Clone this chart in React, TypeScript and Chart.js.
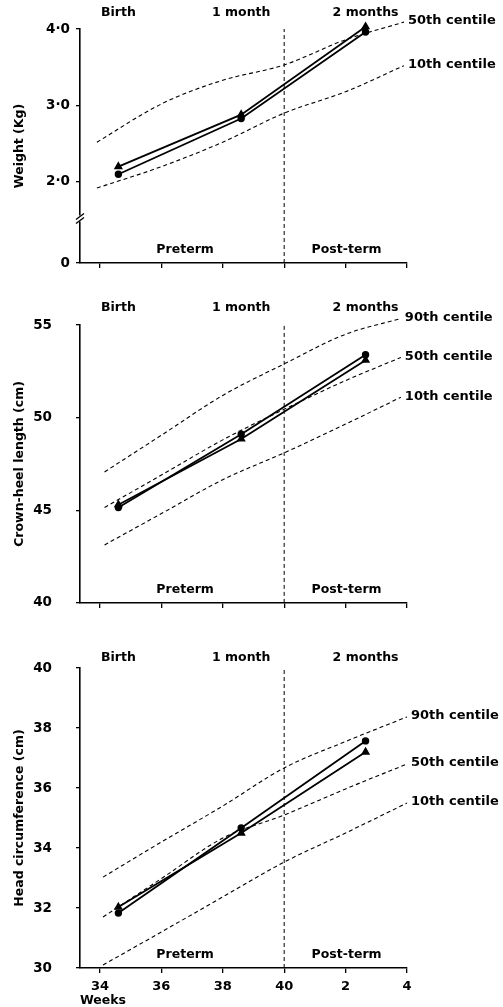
import { useEffect, useRef } from "react";
import { Chart, registerables } from "chart.js";

Chart.register(...registerables);

const FONT = '"DejaVu Sans", sans-serif';

// Shared x-axis (gestational / post-term weeks)
const weekTicks = [34, 36, 38, 40, 42, 44];
const weekTickLabels = ["34", "36", "38", "40", "2", "4"];
const termWeek = 40;
const visitWeeks = [34.6, 38.6, 42.65];
const visitLabels = ["Birth", "1 month", "2 months"];
const regionLabels = ["Preterm", "Post-term"];

// Panel 1: weight (kg)
const weightCentileWeeks = [33.9, 36, 38, 40, 42, 43.9];
const weight50 = [2.52, 3.02, 3.33, 3.53, 3.86, 4.09];
const weight10 = [1.92, 2.2, 2.52, 2.9, 3.18, 3.52];
const weightTriangle = [2.2, 2.88, 4.03];
const weightCircle = [2.1, 2.83, 3.96];
const weightTicks = [0.94, 2, 3, 4];
const weightTickLabels = ["0", "2·0", "3·0", "4·0"];

// Panel 2: crown-heel length (cm)
const lengthCentileWeeks = [34.15, 36, 38, 40, 42, 43.8];
const length90 = [47.07, 49.05, 51.2, 52.9, 54.5, 55.35];
const length50 = [45.15, 46.9, 48.8, 50.45, 52.0, 53.25];
const length10 = [43.13, 44.82, 46.65, 48.1, 49.65, 51.1];
const lengthCircle = [45.15, 49.1, 53.4];
const lengthTriangle = [45.3, 48.85, 53.1];
const lengthTicks = [40, 45, 50, 55];
const lengthTickLabels = ["40", "45", "50", "55"];

// Panel 3: head circumference (cm)
const headCentileWeeks = [34.1, 36, 38, 40, 42, 44];
const head90 = [33.03, 34.2, 35.4, 36.67, 37.55, 38.37];
const head50 = [31.7, 32.98, 34.33, 35.1, 35.97, 36.8];
const head10 = [30.1, 31.2, 32.37, 33.53, 34.5, 35.5];
const headCircle = [31.83, 34.67, 37.57];
const headTriangle = [32.03, 34.5, 37.2];
const headTicks = [30, 32, 34, 36, 38, 40];
const headTickLabels = ["30", "32", "34", "36", "38", "40"];

type Centile = { name: string; weeks: number[]; values: number[] };

type PanelSpec = {
  top: number;
  height: number;
  padTop: number;
  xAxisHeight: number;
  yMin: number;
  yMax: number;
  yTicks: number[];
  yLabels: string[];
  yTickPad: number;
  topLabelOffset: number;
  title: string;
  centiles: Centile[];
  triangle: number[];
  circle: number[];
  showXLabels: boolean;
  axisBreak: boolean;
};

const panels: PanelSpec[] = [
  {
    top: 0,
    height: 290,
    padTop: 29,
    xAxisHeight: 27,
    yMin: weightTicks[0],
    yMax: 4,
    yTicks: weightTicks,
    yLabels: weightTickLabels,
    yTickPad: 6,
    topLabelOffset: 16,
    title: "Weight (Kg)",
    centiles: [
      { name: "50th centile", weeks: weightCentileWeeks, values: weight50 },
      { name: "10th centile", weeks: weightCentileWeeks, values: weight10 },
    ],
    triangle: weightTriangle,
    circle: weightCircle,
    showXLabels: false,
    axisBreak: true,
  },
  {
    top: 290,
    height: 345,
    padTop: 35,
    xAxisHeight: 13,
    yMin: 40,
    yMax: 55,
    yTicks: lengthTicks,
    yLabels: lengthTickLabels,
    yTickPad: 24,
    topLabelOffset: 17,
    title: "Crown-heel length (cm)",
    centiles: [
      { name: "90th centile", weeks: lengthCentileWeeks, values: length90 },
      { name: "50th centile", weeks: lengthCentileWeeks, values: length50 },
      { name: "10th centile", weeks: lengthCentileWeeks, values: length10 },
    ],
    triangle: lengthTriangle,
    circle: lengthCircle,
    showXLabels: false,
    axisBreak: false,
  },
  {
    top: 635,
    height: 372,
    padTop: 33,
    xAxisHeight: 39,
    yMin: 30,
    yMax: 40,
    yTicks: headTicks,
    yLabels: headTickLabels,
    yTickPad: 24,
    topLabelOffset: 10,
    title: "Head circumference (cm)",
    centiles: [
      { name: "90th centile", weeks: headCentileWeeks, values: head90 },
      { name: "50th centile", weeks: headCentileWeeks, values: head50 },
      { name: "10th centile", weeks: headCentileWeeks, values: head10 },
    ],
    triangle: headTriangle,
    circle: headCircle,
    showXLabels: true,
    axisBreak: false,
  },
];

function buildConfig(p: PanelSpec): any {
  const datasets: any[] = [];
  p.centiles.forEach((c) => {
    datasets.push({
      label: c.name,
      data: c.weeks.map((w, i) => ({ x: w, y: c.values[i] })),
      borderColor: "#000",
      borderWidth: 1.1,
      borderDash: [4, 3],
      pointRadius: 0,
      cubicInterpolationMode: "monotone",
      clip: false,
      fill: false,
    });
  });
  datasets.push({
    label: "triangle",
    data: visitWeeks.map((w, i) => ({ x: w, y: p.triangle[i] })),
    borderColor: "#000",
    backgroundColor: "#000",
    borderWidth: 1.8,
    pointStyle: "triangle",
    pointRadius: 3.5,
    pointBackgroundColor: "#000",
    clip: false,
    fill: false,
  });
  datasets.push({
    label: "circle",
    data: visitWeeks.map((w, i) => ({ x: w, y: p.circle[i] })),
    borderColor: "#000",
    backgroundColor: "#000",
    borderWidth: 1.8,
    pointStyle: "circle",
    pointRadius: 2.8,
    pointBackgroundColor: "#000",
    clip: false,
    fill: false,
  });
  datasets.push({
    label: "term",
    data: [
      { x: termWeek, y: p.yMin },
      { x: termWeek, y: p.yMax },
    ],
    borderColor: "#000",
    borderWidth: 1,
    borderDash: [4, 3],
    pointRadius: 0,
    fill: false,
  });

  const textPlugin = {
    id: "panelText",
    afterDraw(chart: any) {
      const ctx = chart.ctx as CanvasRenderingContext2D;
      const xs = chart.scales.x;
      const ys = chart.scales.y;
      const area = chart.chartArea;
      ctx.save();
      ctx.fillStyle = "#000";
      ctx.textBaseline = "middle";

      // visit labels along the top
      ctx.font = `bold 12.5px ${FONT}`;
      ctx.textAlign = "center";
      visitLabels.forEach((t, i) => {
        ctx.fillText(t, xs.getPixelForValue(visitWeeks[i]), area.top - p.topLabelOffset);
      });

      // Preterm / Post-term
      const termX = xs.getPixelForValue(termWeek);
      ctx.fillText(regionLabels[0], (area.left + termX) / 2 + 3, area.bottom - 13);
      ctx.fillText(regionLabels[1], (termX + area.right) / 2 + 1, area.bottom - 13);

      // centile labels at end of each dashed curve
      ctx.font = `bold 13px ${FONT}`;
      ctx.textAlign = "left";
      p.centiles.forEach((c) => {
        const n = c.weeks.length - 1;
        const px = xs.getPixelForValue(c.weeks[n]);
        const py = ys.getPixelForValue(c.values[n]);
        ctx.fillText(c.name, px + 4, py - 1);
      });

      // y-axis title
      ctx.font = `bold 12.5px ${FONT}`;
      ctx.save();
      ctx.translate(20, (area.top + area.bottom) / 2);
      ctx.rotate(-Math.PI / 2);
      ctx.textAlign = "center";
      ctx.fillText(p.title, 0, 0);
      ctx.restore();

      if (p.showXLabels) {
        ctx.textAlign = "center";
        ctx.fillText("Weeks", xs.getPixelForValue(weekTicks[0]) + 3, area.bottom + 33);
      }

      if (p.axisBreak) {
        const by = ys.getPixelForValue((p.yMin + p.yTicks[1]) / 2) - 4;
        const bx = area.left;
        ctx.fillStyle = "#fff";
        ctx.fillRect(bx - 3, by - 3, 6, 6);
        ctx.strokeStyle = "#000";
        ctx.lineWidth = 1.4;
        ctx.beginPath();
        ctx.moveTo(bx - 4, by + 1);
        ctx.lineTo(bx + 4, by - 5);
        ctx.moveTo(bx - 4, by + 5);
        ctx.lineTo(bx + 4, by - 1);
        ctx.stroke();
      }
      ctx.restore();
    },
  };

  return {
    type: "line",
    data: { datasets },
    plugins: [textPlugin],
    options: {
      animation: false,
      responsive: false,
      maintainAspectRatio: false,
      devicePixelRatio: 1,
      layout: { padding: { top: p.padTop, right: 96, bottom: 0, left: 0 } },
      plugins: { legend: { display: false }, tooltip: { enabled: false } },
      elements: { line: { tension: 0 } },
      scales: {
        x: {
          type: "linear",
          min: 33.35,
          max: 44,
          afterBuildTicks: (scale: any) => {
            scale.ticks = weekTicks.map((v) => ({ value: v }));
          },
          afterFit: (scale: any) => {
            scale.height = p.xAxisHeight;
          },
          grid: {
            display: true,
            drawOnChartArea: false,
            drawTicks: true,
            tickLength: 5,
            color: "#000",
            lineWidth: 1.3,
          },
          border: { display: true, color: "#000", width: 1.6 },
          ticks: {
            autoSkip: false,
            maxRotation: 0,
            padding: 6,
            color: "#000",
            font: { family: FONT, size: 13, weight: "bold" },
            callback: (_v: any, i: number) => (p.showXLabels ? weekTickLabels[i] : ""),
          },
        },
        y: {
          type: "linear",
          min: p.yMin,
          max: p.yMax,
          afterBuildTicks: (scale: any) => {
            scale.ticks = p.yTicks.map((v) => ({ value: v }));
          },
          afterFit: (scale: any) => {
            scale.width = 80;
          },
          grid: {
            display: true,
            drawOnChartArea: false,
            drawTicks: true,
            tickLength: 4,
            color: "#000",
            lineWidth: 1.3,
          },
          border: { display: true, color: "#000", width: 1.6 },
          ticks: {
            autoSkip: false,
            padding: p.yTickPad,
            color: "#000",
            font: { family: FONT, size: 13.5, weight: "bold" },
            callback: (_v: any, i: number) => p.yLabels[i],
          },
        },
      },
    },
  };
}

function Panel({ spec }: { spec: PanelSpec }) {
  const ref = useRef<HTMLCanvasElement>(null);
  useEffect(() => {
    const chart = new Chart(ref.current as HTMLCanvasElement, buildConfig(spec));
    return () => chart.destroy();
  }, [spec]);
  return (
    <canvas
      ref={ref}
      width={503}
      height={spec.height}
      style={{ position: "absolute", left: 0, top: spec.top, width: 503, height: spec.height }}
    />
  );
}

export default function App() {
  return (
    <div
      style={{
        position: "absolute",
        left: 0,
        top: 0,
        width: 503,
        height: 1007,
        background: "#fff",
        overflow: "hidden",
      }}
    >
      {panels.map((p, i) => (
        <Panel key={i} spec={p} />
      ))}
    </div>
  );
}
